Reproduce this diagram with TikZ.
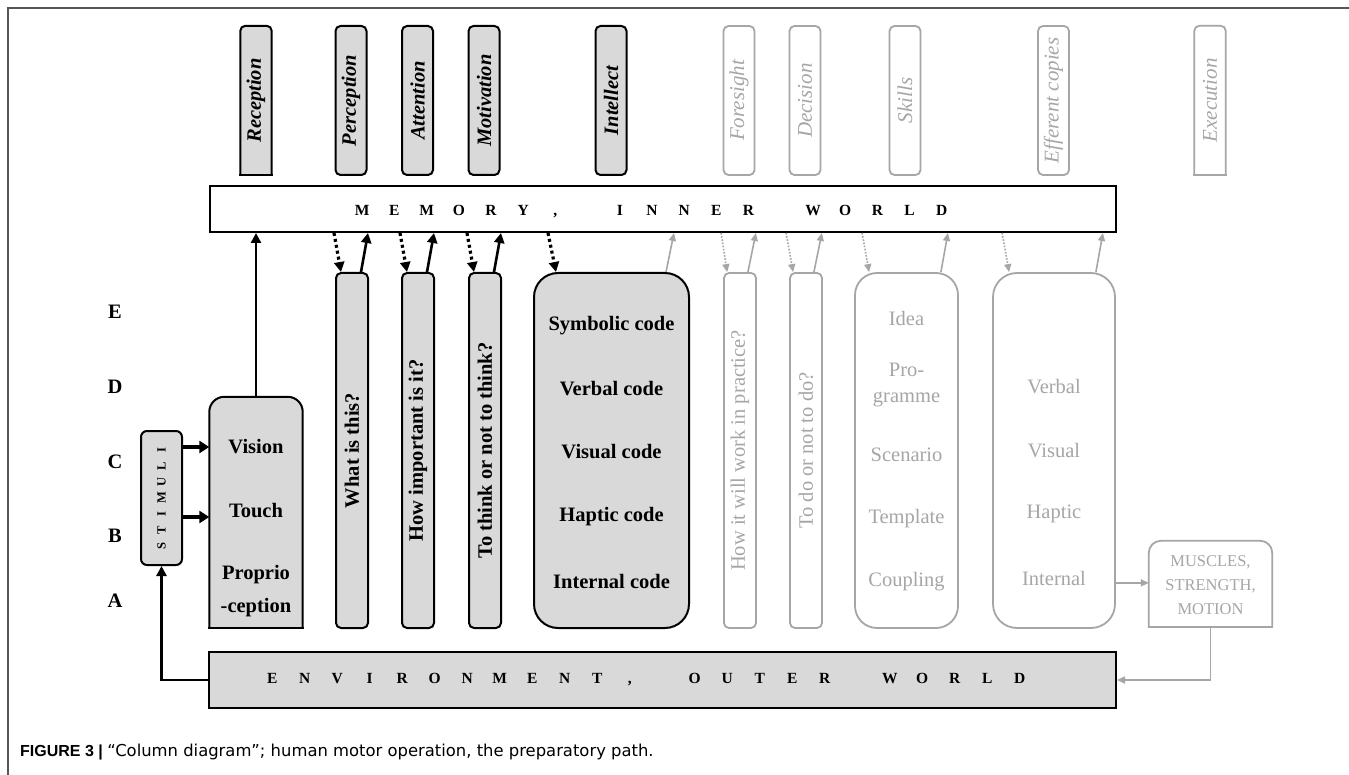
\documentclass[tikz,border=0pt]{standalone}
\usepackage{fontspec}
\usepackage{graphicx}
\setmainfont{Liberation Serif}
\setsansfont{Liberation Sans}
\newfontfamily\capreg{DejaVu Sans}
\usetikzlibrary{arrows.meta,calc}
\definecolor{boxgray}{HTML}{D9D9D9}
\definecolor{lgray}{HTML}{A6A6A6}
\definecolor{tgray}{HTML}{A6A6A6}
\definecolor{framec}{HTML}{555555}
\newlength\pitch
\def\spell#1{\ifx#1\relax\else\makebox[\pitch][c]{#1}\expandafter\spell\fi}
\newcommand\toprounded[3]{%
  \filldraw[#3, rounded corners=#2] (#1.south west) -- (#1.north west) -- (#1.north east) -- (#1.south east);
  \draw[#3, line cap=rect] (#1.south west) -- (#1.south east);}
\tikzset{
  blk/.style={draw=black, line width=2pt, fill=boxgray},
  gry/.style={draw=lgray, line width=1.8pt, fill=white},
  lab/.style={inner sep=0pt, font=\fontsize{20.5}{24}\selectfont\bfseries},
  glab/.style={inner sep=0pt, text=tgray, font=\fontsize{20.5}{24}\selectfont},
  tlab/.style={font=\fontsize{20.5}{24}\selectfont\bfseries\itshape},
  gtlab/.style={text=tgray, font=\fontsize{21}{24}\selectfont\itshape},
  topb/.style={minimum width=31pt, minimum height=149pt, inner sep=0pt, rounded corners=5pt},
  colb/.style={minimum height=355pt, inner sep=0pt},
  barr/.style={line width=2.6pt, -{Triangle[length=10pt,width=10pt]}},
  sarr/.style={line width=3.5pt, -{Triangle[length=10pt,width=12pt]}},
  darr/.style={line width=3.2pt, dash pattern=on 3pt off 3pt, -{Triangle[length=10pt,width=10pt]}},
  garr/.style={draw=lgray, line width=1.6pt, -{Triangle[length=8pt,width=7pt]}},
  gdarr/.style={garr, dash pattern=on 1.6pt off 1.6pt},
  spaced/.style={inner sep=0pt, font=\fontsize{15.5}{18}\selectfont\bfseries},
  side/.style={inner sep=0pt, font=\fontsize{20.5}{24}\selectfont\bfseries},
}
\begin{document}
\begin{tikzpicture}[x=1pt, y=-1pt]
\useasboundingbox (0,0) rectangle (1349,775);
\fill[white] (0,0) rectangle (1349,775);
\draw[framec, line width=1.2pt] (8,775) -- (8,8) -- (1349,8);

% ---------- top labels ----------
\node[minimum width=31pt, minimum height=149pt, inner sep=0pt] (tRec) at (256,100.5) {};
\toprounded{tRec}{5pt}{blk}
\node[tlab, inner sep=0pt] (tRecT) at (tRec) {\rotatebox{90}{Reception}};
\node[topb, blk, tlab] (tPer) at (351,100.5) {\rotatebox{90}{Perception}};
\node[topb, blk, tlab] (tAtt) at (417.5,100.5) {\rotatebox{90}{Attention}};
\node[topb, blk, tlab] (tMot) at (484,100.5) {\rotatebox{90}{Motivation}};
\node[topb, blk, tlab] (tInt) at (611,100.5) {\rotatebox{90}{Intellect}};
\node[topb, gry, gtlab] (tFor) at (739,100.5) {\rotatebox{90}{Foresight}};
\node[topb, gry, gtlab] (tDec) at (805,100.5) {\rotatebox{90}{Decision}};
\node[topb, gry, gtlab] (tSki) at (905,100.5) {\rotatebox{90}{Skills}};
\node[topb, gry, gtlab] (tEff) at (1053.5,100.5) {\rotatebox{90}{Efferent copies}};
\node[minimum width=31pt, minimum height=149pt, inner sep=0pt] (tExe) at (1210,100.5) {};
\toprounded{tExe}{5pt}{gry}
\node[gtlab, inner sep=0pt] (tExeT) at (tExe) {\rotatebox{90}{Execution}};

% ---------- memory bar ----------
\node[draw=black, line width=2pt, fill=white, minimum width=906pt, minimum height=46pt, inner sep=0pt] (mem) at (663,209) {};
\node[spaced] (memT) at (652,212) {\setlength\pitch{32.2pt}\spell MEMORY,~INNER~WORLD\relax};

% ---------- environment bar ----------
\node[blk, minimum width=907pt, minimum height=56pt, inner sep=0pt] (env) at (662.5,680) {};
\node[spaced] (envT) at (646,680) {\setlength\pitch{32.5pt}\spell ENVIRONMENT,~OUTER~WORLD\relax};

% ---------- side letters ----------
\node[side] (lE) at (115,312) {E};
\node[side] (lD) at (115,387) {D};
\node[side] (lC) at (115,462) {C};
\node[side] (lB) at (115,536) {B};
\node[side] (lA) at (115,601) {A};

% ---------- stimuli ----------
\node[blk, rounded corners=6pt, minimum width=41pt, minimum height=134pt, inner sep=0pt,
      font=\fontsize{12.5}{14}\selectfont\bfseries] (stim) at (161.5,498)
      {\rotatebox{90}{\setlength\pitch{16pt}\spell STIMULI\relax}};

% ---------- vision box ----------
\node[minimum width=93pt, minimum height=231pt, inner sep=0pt] (vis) at (256,512.5) {};
\toprounded{vis}{15pt}{blk}
\node[lab] (visT1) at (256,447) {Vision};
\node[lab] (visT2) at (256,511) {Touch};
\node[lab, align=center, font=\fontsize{20.5}{33}\selectfont\bfseries] (visT3) at (256,591.5) {Proprio\\-ception};

% ---------- black columns ----------
\node[colb, blk, rounded corners=5pt, minimum width=32pt, lab] (q1) at (352,450.5) {\rotatebox{90}{What is this?}};
\node[colb, blk, rounded corners=5pt, minimum width=32pt, lab] (q2) at (418,450.5) {\rotatebox{90}{How important is it?}};
\node[colb, blk, rounded corners=5pt, minimum width=32pt, lab] (q3) at (485,450.5) {\rotatebox{90}{To think or not to think?}};
\node[colb, blk, rounded corners=24pt, minimum width=155pt] (code) at (611.5,450.5) {};
\node[lab] (c1) at (611.5,326) {Symbolic code};
\node[lab] (c2) at (611.5,389) {Verbal code};
\node[lab] (c3) at (611.5,452) {Visual code};
\node[lab] (c4) at (611.5,517) {Haptic code};
\node[lab] (c5) at (611.5,581) {Internal code};

% ---------- gray columns ----------
\node[colb, gry, rounded corners=5pt, minimum width=32pt, glab] (g1) at (740,450.5) {\rotatebox{90}{How it will work in practice?}};
\node[colb, gry, rounded corners=5pt, minimum width=32pt, glab] (g2) at (806,450.5) {\rotatebox{90}{To do or not to do?}};
\node[colb, gry, rounded corners=22pt, minimum width=103pt] (ski) at (906.5,450.5) {};
\node[glab] (s1) at (906.5,318) {Idea};
\node[glab, align=center, font=\fontsize{20.5}{26}\selectfont] (s2) at (906.5,385) {Pro-\\gramme};
\node[glab] (s3) at (906.5,455) {Scenario};
\node[glab] (s4) at (906.5,519) {Template};
\node[glab] (s5) at (906.5,582) {Coupling};
\node[colb, gry, rounded corners=24pt, minimum width=122pt] (eff) at (1054,450.5) {};
\node[glab] (e1) at (1054,387) {Verbal};
\node[glab] (e2) at (1054,451) {Visual};
\node[glab] (e3) at (1054,514) {Haptic};
\node[glab] (e4) at (1054,578) {Internal};

% ---------- muscles ----------
\node[minimum width=123pt, minimum height=86pt, inner sep=0pt] (mus) at (1210.5,584) {};
\toprounded{mus}{12pt}{gry}
\node[glab, align=center, font=\fontsize{16.5}{24}\selectfont] (musT) at (1210.5,585) {MUSCLES,\\STRENGTH,\\MOTION};

% ---------- connectors ----------
\draw[barr] (vis.north) -- (vis.north |- mem.south);
\foreach \c in {q1,q2,q3} {
  \draw[darr] ($(\c.north west |- mem.south)+(-1,0)$) -- ($(\c.north west)+(6,0)$);
  \draw[barr] ($(\c.north east)+(-8,0)$) -- ($(\c.north east |- mem.south)+(-1,0)$);
}
\draw[darr] ($(code.north west |- mem.south)+(15,0)$) -- ($(code.north west)+(23,0)$);
\draw[garr] ($(code.north east)+(-24,0)$) -- ($(code.north east |- mem.south)+(-16,0)$);
\foreach \c/\da/\db/\sa/\sb in {g1/-2/4/-9/-1, g2/-3/4/-9/-1} {
  \draw[gdarr] ($(\c.north west |- mem.south)+(\da,0)$) -- ($(\c.north west)+(\db,0)$);
  \draw[garr] ($(\c.north east)+(\sa,0)$) -- ($(\c.north east |- mem.south)+(\sb,0)$);
}
\draw[gdarr] ($(ski.north west |- mem.south)+(8,0)$) -- ($(ski.north west)+(15,0)$);
\draw[garr] ($(ski.north east)+(-18,0)$) -- ($(ski.north east |- mem.south)+(-11,0)$);
\draw[gdarr] ($(eff.north west |- mem.south)+(10,0)$) -- ($(eff.north west)+(17,0)$);
\draw[garr] ($(eff.north east)+(-20,0)$) -- ($(eff.north east |- mem.south)+(-13,0)$);

\coordinate (sa) at ($(stim.east)+(0,-51)$);
\coordinate (sb) at ($(stim.east)+(0,19)$);
\draw[sarr] (sa) -- (sa -| vis.west);
\draw[sarr] (sb) -- (sb -| vis.west);
\draw[barr] (env.west) -- (env.west -| stim.south) -- (stim.south);

\coordinate (ea) at ($(eff.south east)+(0,-46)$);
\draw[garr] (ea) -- (ea -| mus.west);
\draw[garr] (mus.south) -- (mus.south |- env.east) -- (env.east);

% ---------- caption ----------
\node[anchor=west, inner sep=0pt] (cap) at (20,752)
  {\sffamily\fontsize{16}{18}\selectfont\textbf{FIGURE 3 |} {\capreg\fontsize{16.4}{18}\selectfont “Column diagram”; human motor operation, the preparatory path.}};
\end{tikzpicture}
\end{document}
